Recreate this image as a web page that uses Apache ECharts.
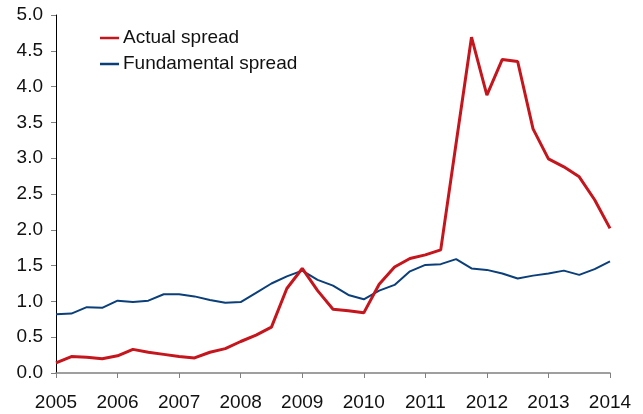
<!DOCTYPE html>
<html>
<head>
<meta charset="utf-8">
<script src="https://cdn.jsdelivr.net/npm/echarts@6/dist/echarts.min.js"></script>
<style>
  html, body { margin: 0; padding: 0; background: #fff; }
  #main { width: 643px; height: 414px; }
</style>
</head>
<body>
<div id="main"></div>
<script>
// quarterly, 2005Q1 .. 2014Q1
var years = [2005, 2006, 2007, 2008, 2009, 2010, 2011, 2012, 2013, 2014];
var quarters = [];
for (var y = 0; y < years.length; y++) {
  for (var q = 1; q <= 4; q++) {
    if (years[y] === 2014 && q > 1) break;
    quarters.push(years[y] + 'Q' + q);
  }
}

var actualSpread = [
  0.14, 0.23, 0.22, 0.20, 0.24, 0.33, 0.29, 0.26,
  0.23, 0.21, 0.29, 0.34, 0.44, 0.53, 0.64, 1.18,
  1.46, 1.15, 0.89, 0.87, 0.84, 1.24, 1.48, 1.60,
  1.65, 1.72, 3.21, 4.69, 3.88, 4.38, 4.35, 3.41,
  2.99, 2.88, 2.74, 2.42, 2.02
];
var fundamentalSpread = [
  0.82, 0.83, 0.92, 0.91, 1.01, 0.99, 1.01, 1.10,
  1.10, 1.07, 1.02, 0.98, 0.99, 1.12, 1.25, 1.35,
  1.43, 1.30, 1.22, 1.09, 1.03, 1.15, 1.23, 1.42,
  1.51, 1.52, 1.59, 1.46, 1.44, 1.39, 1.32, 1.36,
  1.39, 1.43, 1.37, 1.45, 1.56
];

var chart = echarts.init(document.getElementById('main'));

var option = {
  animation: false,
  textStyle: { fontFamily: 'Liberation Sans, Arial, sans-serif' },
  grid: { left: 56, right: 33, top: 15, bottom: 41 },
  legend: {
    orient: 'vertical',
    left: 100,
    top: 27,
    padding: 0,
    itemWidth: 19,
    itemHeight: 2.5,
    itemGap: 4,
    icon: 'rect',
    textStyle: { fontSize: 19, lineHeight: 22, color: '#111', fontFamily: 'Liberation Sans, Arial, sans-serif', padding: [0, 0, 0, -1] },
    data: ['Actual spread', 'Fundamental spread']
  },
  xAxis: {
    type: 'category',
    boundaryGap: false,
    data: quarters,
    axisLine: { lineStyle: { color: '#808080', width: 1.5 } },
    axisTick: {
      length: 5,
      lineStyle: { color: '#808080' },
      interval: function (i) { return i % 4 === 0; }
    },
    axisLabel: {
      fontSize: 19,
      color: '#111',
      margin: 20,
      interval: function (i) { return i % 4 === 0; },
      formatter: function (v) { return v.slice(0, 4); }
    },
    splitLine: { show: false }
  },
  yAxis: {
    type: 'value',
    min: 0,
    max: 5,
    interval: 0.5,
    axisLine: { show: true, lineStyle: { color: '#000', width: 1 } },
    axisTick: { show: true, length: 5, lineStyle: { color: '#808080' } },
    axisLabel: {
      fontSize: 19,
      color: '#111',
      margin: 13,
      formatter: function (v) { return v.toFixed(1); }
    },
    splitLine: { show: false }
  },
  series: [
    {
      name: 'Actual spread',
      type: 'line',
      data: actualSpread,
      symbol: 'none',
      lineStyle: { color: '#c4161c', width: 3 },
      itemStyle: { color: '#c4161c' },
      z: 3
    },
    {
      name: 'Fundamental spread',
      type: 'line',
      data: fundamentalSpread,
      symbol: 'none',
      lineStyle: { color: '#0b3f7a', width: 2 },
      itemStyle: { color: '#0b3f7a' },
      z: 2
    }
  ]
};

chart.setOption(option);
</script>
</body>
</html>
